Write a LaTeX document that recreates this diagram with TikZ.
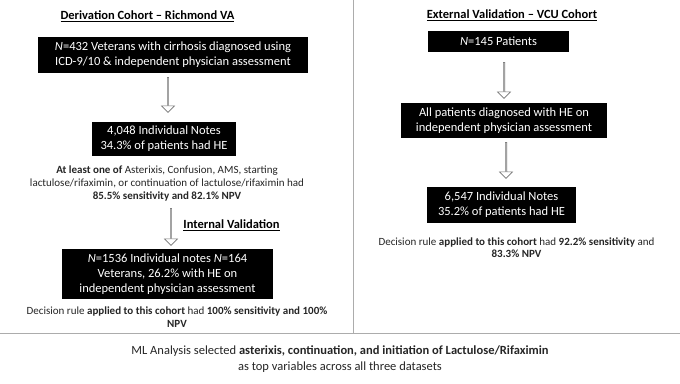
\documentclass[tikz,border=0pt]{standalone}
\usepackage{fontspec}
\setmainfont{Carlito}
\usetikzlibrary{shapes.arrows}
\begin{document}
\begin{tikzpicture}[x=1pt,y=-1pt,
  box/.style={fill=black, text=white, inner sep=0pt, align=center, font=\fontsize{12.5}{15}\selectfont},
  harrow/.style={single arrow, draw=gray!90!black, fill=white, line width=0.6pt, minimum width=13pt, single arrow head extend=2.5pt, shape border rotate=270, inner sep=0pt, anchor=center},
  small/.style={align=center, font=\fontsize{11}{13}\selectfont, inner sep=0pt, text=black!85},
  ttl/.style={font=\fontsize{12.5}{14}\selectfont\bfseries, inner sep=0pt},
  divider/.style={draw=gray!65, line width=1pt}]
\fill[white] (0,0) rectangle (680,383);
\useasboundingbox (0,0) rectangle (680,383);
% dividers
\coordinate (vt) at (353,0);
\coordinate (vb) at (353,333);
\coordinate (hl) at (0,333);
\coordinate (hr) at (680,333);
\draw[divider] (vt) -- (vb);
\draw[divider] (hl) -- (hr);
% left column
\node[ttl] (tl) at (147.5,16) {\underline{Derivation Cohort – Richmond VA}};
\node[box, minimum width=270pt, minimum height=36pt] (b1) at (173,55)
  {\textit{N}=432 Veterans with cirrhosis diagnosed using\\ICD-9/10 \& independent physician assessment};
\node[harrow, minimum height=35pt] (a1) at (168,94.5) {};
\node[box, minimum width=144pt, minimum height=34pt] (b2) at (164,139)
  {4,048 Individual Notes\\34.3\% of patients had HE};
\node[small] (s1) at (167,183.5)
  {\textbf{At least one of} Asterixis, Confusion, AMS, starting\\lactulose/rifaximin, or continuation of lactulose/rifaximin had\\\textbf{85.5\% sensitivity and 82.1\% NPV}};
\node[harrow, minimum height=37pt] (a2) at (171,226.5) {};
\node[ttl] (iv) at (231.5,225) {\underline{Internal Validation}};
\node[box, minimum width=211pt, minimum height=50pt] (b3) at (167.5,274)
  {\textit{N}=1536 Individual notes \textit{N}=164\\Veterans, 26.2\% with HE on\\independent physician assessment};
\node[small, font=\fontsize{11}{12.5}\selectfont] (s2) at (177,317)
  {Decision rule \textbf{applied to this cohort} had \textbf{100\% sensitivity and 100\%}\\\textbf{NPV}};
% right column
\node[ttl] (tr) at (512,15) {\underline{External Validation – VCU Cohort}};
\node[box, minimum width=141pt, minimum height=21pt] (r1) at (498.5,41.5)
  {\textit{N}=145 Patients};
\node[harrow, minimum height=36pt] (ra1) at (504,80) {};
\node[box, minimum width=206pt, minimum height=35pt] (r2) at (504,120.5)
  {All patients diagnosed with HE on\\independent physician assessment};
\node[harrow, minimum height=36pt] (ra2) at (506,160) {};
\node[box, minimum width=149pt, minimum height=36pt] (r3) at (501.5,205)
  {6,547 Individual Notes\\35.2\% of patients had HE};
\node[small, font=\fontsize{11}{12.5}\selectfont] (s3) at (516.5,247.5)
  {Decision rule \textbf{applied to this cohort} had \textbf{92.2\% sensitivity} and\\\textbf{83.3\% NPV}};
% bottom
\node[small, font=\fontsize{12.5}{16}\selectfont] (bt) at (340,359)
  {ML Analysis selected \textbf{asterixis, continuation, and initiation of Lactulose/Rifaximin}\\as top variables across all three datasets};
\end{tikzpicture}
\end{document}
